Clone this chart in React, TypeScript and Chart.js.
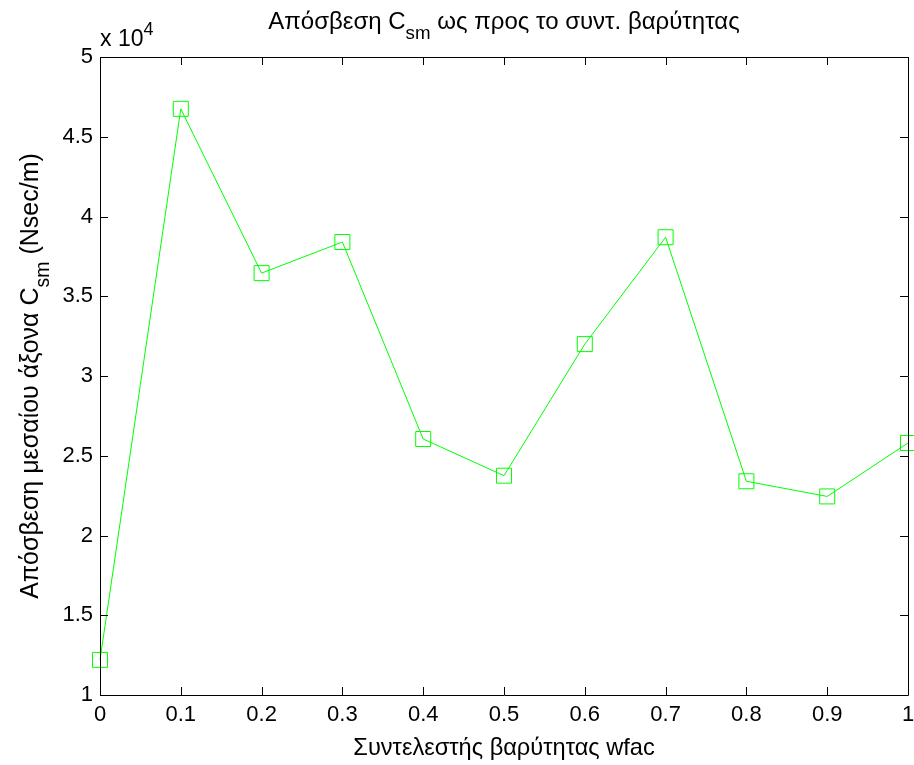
import React, { useEffect, useRef } from 'react';
import { Chart, registerables } from 'chart.js';

Chart.register(...registerables);

// ---- data ----
const wfacValues = [0, 0.1, 0.2, 0.3, 0.4, 0.5, 0.6, 0.7, 0.8, 0.9, 1.0];
const dampingCsm = [12200, 46750, 36450, 38400, 26050, 23750, 32000, 38700, 23400, 22450, 25800];
const xTickValues = [0, 0.1, 0.2, 0.3, 0.4, 0.5, 0.6, 0.7, 0.8, 0.9, 1.0];
const xTickLabels = ['0', '0.1', '0.2', '0.3', '0.4', '0.5', '0.6', '0.7', '0.8', '0.9', '1'];
const yTickValues = [10000, 15000, 20000, 25000, 30000, 35000, 40000, 45000, 50000];
const yTickLabels = ['1', '1.5', '2', '2.5', '3', '3.5', '4', '4.5', '5'];

const titleParts = [
  { t: 'Απόσβεση C' },
  { t: 'sm', sub: true },
  { t: ' ως προς το συντ. βαρύτητας' },
];
const xLabelParts = [{ t: 'Συντελεστής βαρύτητας wfac' }];
const yLabelParts = [
  { t: 'Απόσβεση μεσαίου άξονα C' },
  { t: 'sm', sub: true },
  { t: ' (Nsec/m)' },
];
const exponentParts = [{ t: 'x 10' }, { t: '4', sup: true }];

const FONT = '"Liberation Sans", Arial, Helvetica, sans-serif';
const GREEN = '#00ff00';

type Part = { t: string; sub?: boolean; sup?: boolean };

function drawRich(ctx: CanvasRenderingContext2D, parts: Part[], x: number, y: number, size: number, align: 'center' | 'left') {
  const small = size * 0.78;
  const widths = parts.map((p) => {
    ctx.font = `${p.sub || p.sup ? small : size}px ${FONT}`;
    return ctx.measureText(p.t).width;
  });
  const total = widths.reduce((a, b) => a + b, 0);
  let cx = align === 'center' ? x - total / 2 : x;
  ctx.textBaseline = 'alphabetic';
  ctx.textAlign = 'left';
  ctx.fillStyle = '#000';
  parts.forEach((p, i) => {
    ctx.font = `${p.sub || p.sup ? small : size}px ${FONT}`;
    const dy = p.sub ? size * 0.42 : p.sup ? -size * 0.47 : 0;
    ctx.fillText(p.t, cx, y + dy);
    cx += widths[i];
  });
}

const matlabFrame = {
  id: 'matlabFrame',
  afterDraw(chart: any) {
    const { ctx, chartArea } = chart;
    const { left, right, top, bottom } = chartArea;
    const xs = chart.scales.x;
    const ys = chart.scales.y;
    ctx.save();
    ctx.strokeStyle = '#000';
    ctx.lineWidth = 1;
    ctx.beginPath();
    ctx.rect(Math.round(left) + 0.5, Math.round(top) + 0.5, Math.round(right - left), Math.round(bottom - top));
    const tl = 8;
    xs.ticks.forEach((t: any) => {
      const px = Math.round(xs.getPixelForValue(t.value)) + 0.5;
      ctx.moveTo(px, bottom);
      ctx.lineTo(px, bottom - tl);
      ctx.moveTo(px, top);
      ctx.lineTo(px, top + tl);
    });
    ys.ticks.forEach((t: any) => {
      const py = Math.round(ys.getPixelForValue(t.value)) + 0.5;
      ctx.moveTo(left, py);
      ctx.lineTo(left + tl, py);
      ctx.moveTo(right, py);
      ctx.lineTo(right - tl, py);
    });
    ctx.stroke();

    // title
    drawRich(ctx, titleParts, (left + right) / 2, 29, 24, 'center');
    // x label
    drawRich(ctx, xLabelParts, (left + right) / 2, 755, 23.6, 'center');
    // exponent
    drawRich(ctx, exponentParts, left, 46, 23, 'left');
    // y label
    ctx.translate(38, (top + bottom) / 2);
    ctx.rotate(-Math.PI / 2);
    drawRich(ctx, yLabelParts, 0, 0, 25, 'center');
    ctx.restore();
  },
};

export default function App() {
  const ref = useRef<HTMLCanvasElement | null>(null);
  useEffect(() => {
    if (!ref.current) return;
    const chart = new Chart(ref.current, {
      type: 'line',
      data: {
        datasets: [
          {
            data: wfacValues.map((x, i) => ({ x, y: dampingCsm[i] })),
            borderColor: GREEN,
            borderWidth: 1,
            pointStyle: 'rect',
            pointRadius: 10.6,
            pointBorderColor: GREEN,
            pointBackgroundColor: 'rgba(0,0,0,0)',
            pointBorderWidth: 1,
            tension: 0,
            clip: false as any,
          },
        ],
      },
      options: {
        animation: false,
        responsive: true,
        maintainAspectRatio: false,
        layout: { autoPadding: false, padding: { top: 57, right: 6, left: 0, bottom: 0 } },
        plugins: {
          legend: { display: false },
          title: { display: false },
          tooltip: { enabled: false },
        },
        scales: {
          x: {
            type: 'linear',
            min: 0,
            max: 1,
            afterBuildTicks: (s: any) => {
              s.ticks = xTickValues.map((v) => ({ value: v }));
            },
            afterFit: (s: any) => {
              s.height = 70;
              s.paddingLeft = 0;
              s.paddingRight = 0;
            },
            grid: { display: false, drawTicks: false },
            border: { display: false },
            ticks: {
              padding: 7,
              color: '#000',
              maxRotation: 0,
              autoSkip: false,
              font: { family: FONT, size: 22 },
              callback: (_v: any, i: number) => xTickLabels[i],
            },
          },
          y: {
            type: 'linear',
            min: 10000,
            max: 50000,
            afterBuildTicks: (s: any) => {
              s.ticks = yTickValues.map((v) => ({ value: v }));
            },
            afterFit: (s: any) => {
              s.width = 100;
              s.paddingTop = 0;
              s.paddingBottom = 0;
            },
            grid: { display: false, drawTicks: false },
            border: { display: false },
            ticks: {
              padding: 7,
              color: '#000',
              autoSkip: false,
              font: { family: FONT, size: 22 },
              callback: (_v: any, i: number) => yTickLabels[i],
            },
          },
        },
      },
      plugins: [matlabFrame],
    });
    return () => chart.destroy();
  }, []);
  return (
    <div style={{ position: 'fixed', left: 0, top: 0, width: 914, height: 765, background: '#fff' }}>
      <canvas ref={ref} />
    </div>
  );
}
